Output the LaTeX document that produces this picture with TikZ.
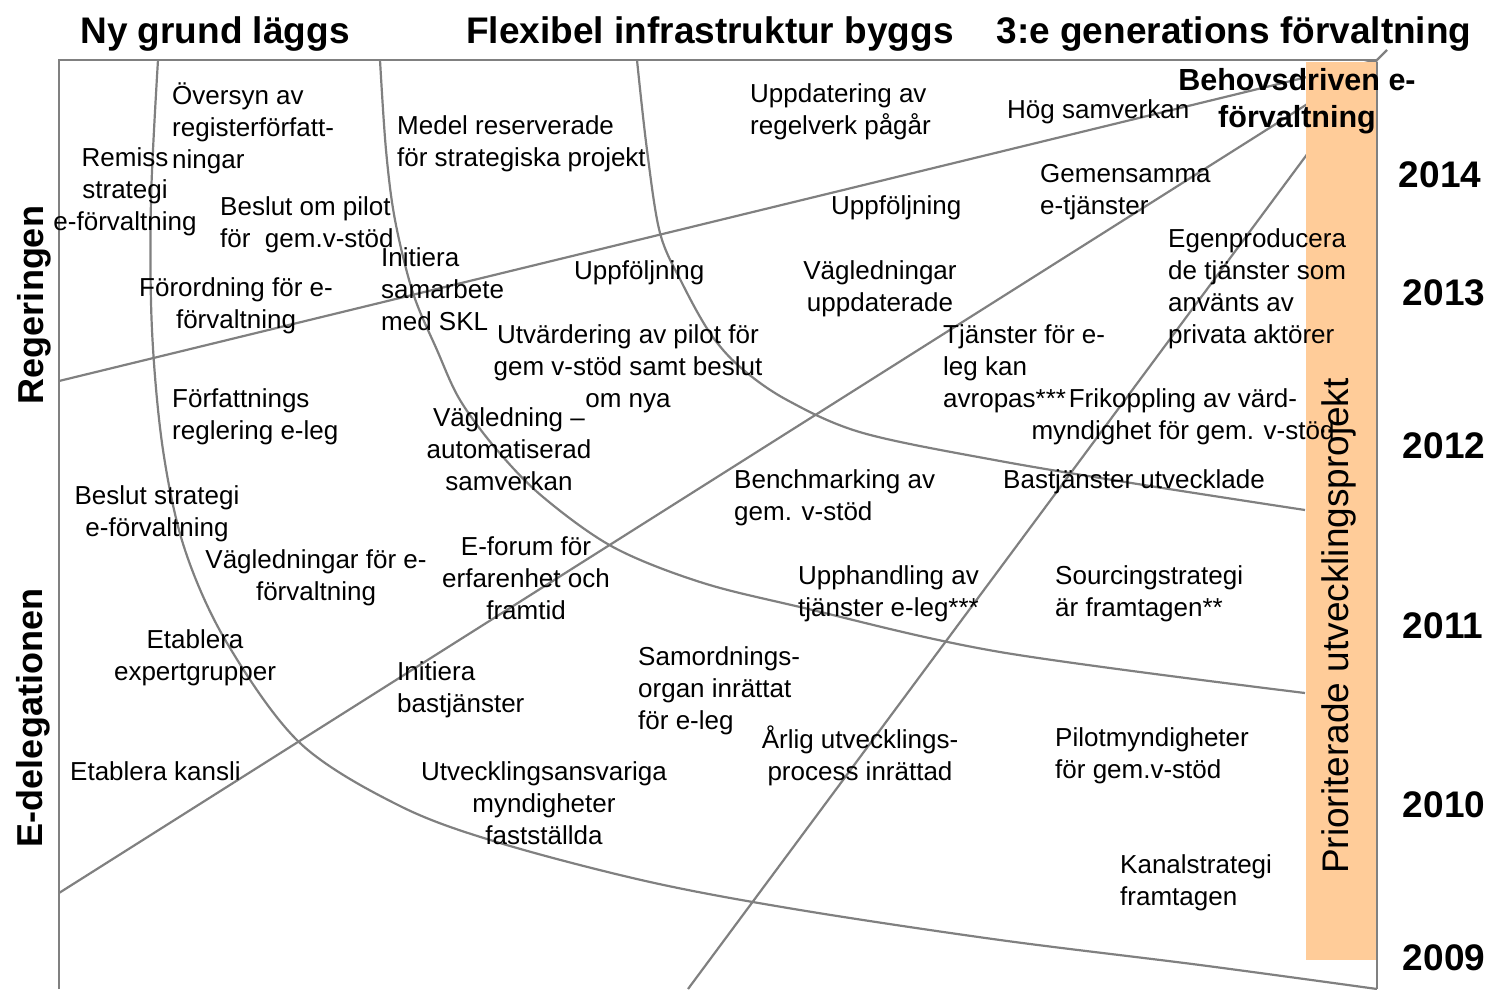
\documentclass[tikz,border=0pt]{standalone}
\usepackage{fontspec}
\setmainfont{Liberation Sans}
\definecolor{linegray}{RGB}{128,128,128}
\definecolor{barorange}{RGB}{255,204,153}
\begin{document}
\begin{tikzpicture}[x=1pt,y=-1pt,
  gline/.style={draw=linegray,line width=2.2pt},
  lbl/.style={font=\fontsize{26}{32}\selectfont,inner sep=0pt,align=left,anchor=west},
  lblc/.style={font=\fontsize{26}{32}\selectfont,inner sep=0pt,align=center,anchor=center},
  hdr/.style={font=\fontsize{37}{44}\selectfont\bfseries,inner sep=0pt,anchor=base},
  yr/.style={font=\fontsize{37}{44}\selectfont\bfseries,inner sep=0pt,anchor=base},
  side/.style={font=\fontsize{36}{44}\selectfont\bfseries,inner sep=0pt,anchor=base,rotate=90}]
\useasboundingbox (0,0) rectangle (1492,989);
% frame
\coordinate (tl) at (59,60);
\coordinate (tr) at (1377,60);
\coordinate (bl) at (59,989);
\coordinate (br) at (1377,989);
\coordinate (tip) at (1387,50);
\coordinate (regL) at (59,381);
\coordinate (edL) at (59,893);
\coordinate (botL) at (688,989);
\draw[gline] (bl) -- (tl) -- (tr);
\draw[gline] (tr) -- (tip);
% straight fan lines
\draw[gline] (regL) -- (tr);
\draw[gline] (edL) -- (tr);
\draw[gline] (botL) -- (tr);
% curves
\draw[gline] plot[smooth,tension=0.55] coordinates {(158,60) (151,200) (152,330) (163,450) (185,550) (227,643) (300,743) (400,806) (500,843) (650,882) (800,910) (1000,940) (1200,965) (1377,989)};
\draw[gline] plot[smooth,tension=0.55] coordinates {(380,60) (386,150) (395,220) (413,293) (437,350) (460,400) (497,450) (543,497) (613,547) (700,582) (800,607) (1000,652) (1305,693)};
\draw[gline] plot[smooth,tension=0.55] coordinates {(637,60) (647,150) (660,233) (682,283) (710,333) (740,367) (787,400) (863,433) (1000,461) (1150,486) (1305,510)};
% bar
\fill[barorange] (1306,62) rectangle (1376,960);
\draw[draw=linegray,line width=1.2pt] (1377,62) -- (br);
\node[font=\fontsize{37}{44}\selectfont,inner sep=0pt,anchor=base,rotate=90] (prio) at (1348,626) {Prioriterade utvecklingsprojekt};
% headers
\node[hdr] (h1) at (215,43) {Ny grund läggs};
\node[hdr] (h2) at (710,43) {Flexibel infrastruktur byggs};
\node[hdr] (h3) at (1234,43) {3:e generations förvaltning};
\node[font=\fontsize{30.5}{37}\selectfont\bfseries,inner sep=0pt,align=center] (behov) at (1297,101) {Behovsdriven e-\\förvaltning};
% side labels
\node[side] (reg) at (43,305) {Regeringen};
\node[side] (edel) at (42,718) {E-delegationen};
% years
\node[yr] (y14) at (1440,187) {2014};
\node[yr] (y13) at (1444,305) {2013};
\node[yr] (y12) at (1444,458) {2012};
\node[yr] (y11) at (1443,638) {2011};
\node[yr] (y10) at (1444,817) {2010};
\node[yr] (y09) at (1444,970) {2009};
% labels
\node[lblc] (rem) at (125,192) {Remiss\\strategi\\e-förvaltning};
\node[lbl] (oversyn) at (172,128) {Översyn av\\registerförfatt-\\ningar};
\node[lbl] (medel) at (397,144) {Medel reserverade\\för strategiska projekt};
\node[lbl] (uppdat) at (750,112) {Uppdatering av\\regelverk pågår};
\node[lbl] (hog) at (1007,112) {Hög samverkan};
\node[lbl] (gemens) at (1040,192) {Gemensamma\\e-tjänster};
\node[lbl] (beslpilot) at (220,225) {Beslut om pilot\\för\ \ gem.v-stöd};
\node[lbl] (uppf1) at (831,208) {Uppföljning};
\node[lbl] (egen) at (1168,289) {Egenproducera\\de tjänster som\\använts av\\privata aktörer};
\node[lbl] (initskl) at (381,289) {Initiera\\samarbete\\med SKL};
\node[lbl] (uppf2) at (574,273) {Uppföljning};
\node[lblc] (vagupp) at (880,289) {Vägledningar\\uppdaterade};
\node[lblc] (forordn) at (236,306) {Förordning för e-\\förvaltning};
\node[lbl] (tjanst) at (943,369) {Tjänster för e-\\leg kan\\avropas***};
\node[lblc] (frikop) at (1183,417) {Frikoppling av värd-\\myndighet för gem. v-stöd};
\node[lblc] (utvard) at (628,369) {Utvärdering av pilot för\\gem v-stöd samt beslut\\om nya};
\node[lbl] (forfatt) at (172,417) {Författnings\\reglering e-leg};
\node[lblc] (vagled) at (509,449) {Vägledning –\\automatiserad\\samverkan};
\node[lbl] (bench) at (734,498) {Benchmarking av\\gem. v-stöd};
\node[lbl] (bastj) at (1003,482) {Bastjänster utvecklade};
\node[lblc] (beslstrat) at (157,514) {Beslut strategi\\e-förvaltning};
\node[lblc] (vagefv) at (316,578) {Vägledningar för e-\\förvaltning};
\node[lblc] (eforum) at (526,578) {E-forum för\\erfarenhet och\\framtid};
\node[lbl] (upphand) at (798,594) {Upphandling av\\tjänster e-leg***};
\node[lbl] (sourcing) at (1055,594) {Sourcingstrategi\\är framtagen**};
\node[lblc] (etabl) at (195,658) {Etablera\\expertgrupper};
\node[lbl] (samord) at (638,691) {Samordnings-\\organ inrättat\\för e-leg};
\node[lbl] (initbas) at (397,690) {Initiera\\bastjänster};
\node[lblc] (arlig) at (860,756) {Årlig utvecklings-\\process inrättad};
\node[lbl] (pilotm) at (1055,756) {Pilotmyndigheter\\för gem.v-stöd};
\node[lbl] (kansli) at (70,771) {Etablera kansli};
\node[lblc] (utvans) at (544,803) {Utvecklingsansvariga\\myndigheter\\fastställda};
\node[lbl] (kanal) at (1120,883) {Kanalstrategi\\framtagen};
\end{tikzpicture}
\end{document}
